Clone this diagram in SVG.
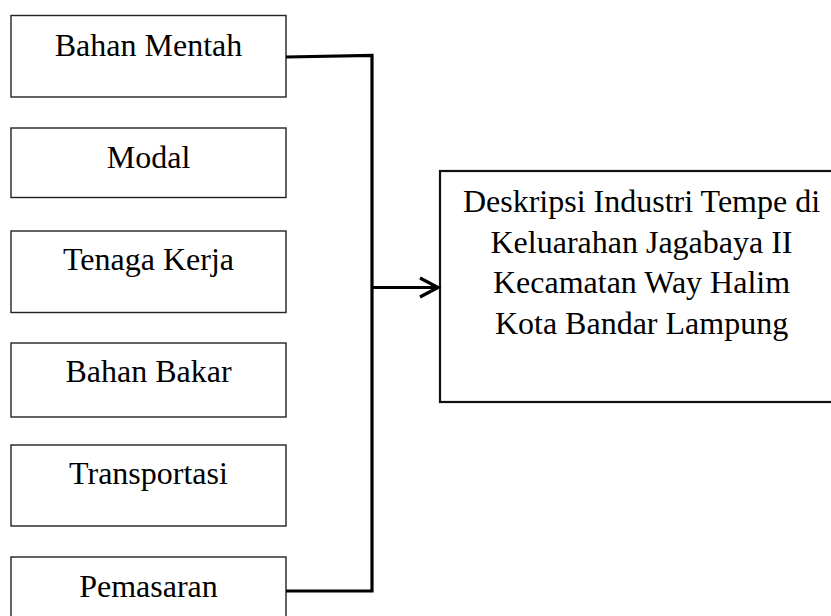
<svg xmlns="http://www.w3.org/2000/svg" width="831" height="616" viewBox="0 0 831 616">
<style>
.box{fill:#fff;stroke:#222;stroke-width:1.4}
.big{fill:#fff;stroke:#111;stroke-width:2.2}
text{font-family:"Liberation Serif","Times New Roman",serif;font-size:32px;fill:#000;text-anchor:middle}
.con{fill:none;stroke:#000;stroke-width:3.2}
</style>
<rect width="831" height="616" fill="#fff"/>
<g id="bahan-mentah"><rect class="box" x="11" y="15.5" width="275" height="81.5"/><text x="148.5" y="56">Bahan Mentah</text></g>
<g id="modal"><rect class="box" x="11" y="128" width="275" height="69.5"/><text x="148.5" y="167.5">Modal</text></g>
<g id="tenaga-kerja"><rect class="box" x="11" y="231" width="275" height="81.5"/><text x="148.5" y="269.5">Tenaga Kerja</text></g>
<g id="bahan-bakar"><rect class="box" x="11" y="343" width="275" height="74"/><text x="148.5" y="382">Bahan Bakar</text></g>
<g id="transportasi"><rect class="box" x="11" y="445" width="275" height="81"/><text x="148.5" y="484">Transportasi</text></g>
<g id="pemasaran"><rect class="box" x="11" y="557" width="275" height="80"/><text x="148.5" y="597">Pemasaran</text></g>
<g id="deskripsi"><rect class="big" x="440" y="171" width="405" height="231"/>
<text x="641.5" y="212">Deskripsi Industri Tempe di</text>
<text x="641.5" y="252.5">Keluarahan Jagabaya II</text>
<text x="641.5" y="293">Kecamatan Way Halim</text>
<text x="641.5" y="334">Kota Bandar Lampung</text></g>
<g id="connectors">
<polyline class="con" points="286,57 372,55.5 372,591 286,591"/>
<line class="con" x1="372" y1="287.5" x2="437" y2="287.5"/>
<polyline class="con" points="420,278 438,287.5 420,297"/>
</g>
</svg>
